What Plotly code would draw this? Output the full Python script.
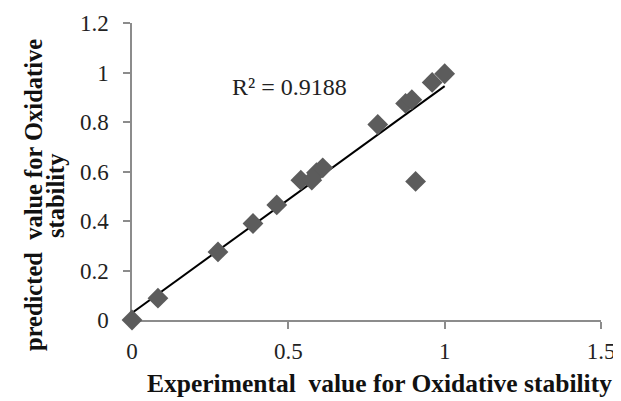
import numpy as np
import plotly.graph_objects as go

experimental = [0.0, 0.083, 0.275, 0.387, 0.463, 0.54, 0.575, 0.59, 0.61, 0.786, 0.875, 0.895, 0.907, 0.96, 1.0]
predicted = [0.0, 0.088, 0.275, 0.39, 0.465, 0.565, 0.565, 0.595, 0.615, 0.79, 0.875, 0.89, 0.56, 0.96, 0.995]
x_ticks = [0, 0.5, 1, 1.5]
y_ticks = [0, 0.2, 0.4, 0.6, 0.8, 1, 1.2]
r2_label = "R² = 0.9188"
x_title = "Experimental  value for Oxidative stability"
y_title_lines = ["predicted  value for Oxidative", "stability"]

xa = np.array(experimental)
ya = np.array(predicted)
slope, intercept = np.polyfit(xa, ya, 1)
fit_x = np.array([xa.min(), xa.max()])
fit_y = slope * fit_x + intercept

fig = go.Figure()
fig.add_trace(go.Scatter(x=fit_x, y=fit_y, mode="lines",
                         line=dict(color="black", width=2), showlegend=False))
fig.add_trace(go.Scatter(x=experimental, y=predicted, mode="markers", cliponaxis=False,
                         marker=dict(symbol="diamond", size=16, color="#5c5c5c"),
                         showlegend=False))

font = "Liberation Serif, Times New Roman, serif"
axis_common = dict(showgrid=False, zeroline=False, showline=True, linecolor="#8c8c8c",
                   linewidth=1.5, ticks="outside", ticklen=7, tickcolor="#8c8c8c",
                   tickwidth=1.5, automargin=False, layer="below traces",
                   tickfont=dict(family=font, size=23, color="#222"))

# page body has an 8px margin, so figure pixel = window pixel - 8
OFF = 8
W, H = 621 - OFF, 401 - OFF
L, T = 132 - OFF, 23 - OFF
R = W - (601 - OFF)
B = H - (320 - OFF)
pw = W - L - R
ph = H - T - B

def px_x(p):
    return (p - OFF - L) / pw

def px_y(p):
    return (H - B - (p - OFF)) / ph

fig.update_layout(
    width=W, height=H,
    margin=dict(l=L, r=R, t=T, b=B),
    paper_bgcolor="white", plot_bgcolor="white",
    xaxis=dict(range=[0, 1.5], tickvals=x_ticks, ticktext=[str(v) for v in x_ticks],
               ticklabelstandoff=3, **axis_common),
    yaxis=dict(range=[0, 1.2], tickvals=y_ticks, ticktext=[str(v) for v in y_ticks],
               ticklabelstandoff=10, **axis_common),
    annotations=[
        dict(text=r2_label, x=0.505, y=0.94, xref="x", yref="y", showarrow=False,
             font=dict(family=font, size=24, color="#222")),
        dict(text="<b>" + x_title + "</b>", x=px_x(379), y=px_y(383),
             xref="paper", yref="paper", showarrow=False, xanchor="center", yanchor="middle",
             font=dict(family=font, size=25.5, color="#111")),
        dict(text="<b>" + y_title_lines[0] + "</b>", textangle=-90,
             x=px_x(33), y=px_y(195), xref="paper", yref="paper", showarrow=False,
             xanchor="center", yanchor="middle",
             font=dict(family=font, size=24.5, color="#111")),
        dict(text="<b>" + y_title_lines[1] + "</b>", textangle=-90,
             x=px_x(55), y=px_y(196), xref="paper", yref="paper", showarrow=False,
             xanchor="center", yanchor="middle",
             font=dict(family=font, size=24.5, color="#111")),
    ],
)
fig.write_html("out.html")
